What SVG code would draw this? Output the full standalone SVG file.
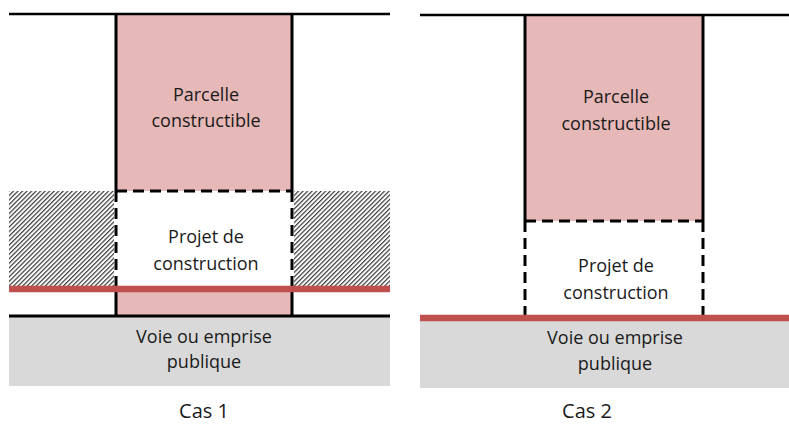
<svg xmlns="http://www.w3.org/2000/svg" width="789" height="424" viewBox="0 0 789 424">
<style>
.lbl{font-family:"Open Sans","Liberation Sans",sans-serif;font-size:18px;fill:#1a1a1a;text-anchor:middle}
.cas{font-family:"Open Sans","Liberation Sans",sans-serif;font-size:20px;fill:#1a1a1a;text-anchor:middle}
.ln{stroke:#000;stroke-width:2.5;fill:none}
.side{stroke:#000;stroke-width:3;fill:none}
.dash{stroke:#000;stroke-width:3;fill:none;stroke-dasharray:11 6}
.red{stroke:#c0504d;stroke-width:6.5;fill:none}
.pink{fill:#e6b8b7}
.gray{fill:#d9d9d9}
</style>
<defs>
<pattern id="hatch" patternUnits="userSpaceOnUse" width="3.2" height="3.2" patternTransform="rotate(45)">
<rect x="0" y="0" width="3.2" height="3.2" fill="#fff"/>
<rect x="0" y="0" width="1.2" height="3.2" fill="#3a3a3a"/>
</pattern>
</defs>
<rect width="789" height="424" fill="#fff"/>

<g id="cas1">
<g id="c1-voie">
<rect class="gray" x="9" y="316" width="381" height="70"/>
<text class="lbl" x="204" y="343">Voie ou emprise</text>
<text class="lbl" x="204" y="368">publique</text>
</g>
<g id="c1-hatch">
<rect x="9" y="191" width="105" height="95" fill="url(#hatch)"/>
<rect x="294" y="191" width="96" height="95" fill="url(#hatch)"/>
</g>
<g id="c1-parcelle">
<rect class="pink" x="116" y="14" width="176" height="177"/>
<rect class="pink" x="116" y="289" width="176" height="27"/>
<text class="lbl" x="206" y="101">Parcelle</text>
<text class="lbl" x="206" y="127">constructible</text>
</g>
<g id="c1-projet">
<rect x="116" y="191" width="176" height="98" fill="#fff"/>
<text class="lbl" x="206" y="243">Projet de</text>
<text class="lbl" x="206" y="270">construction</text>
</g>
<g id="c1-lines">
<line class="ln" x1="9" y1="14" x2="390" y2="14"/>
<line class="side" x1="116" y1="14" x2="116" y2="191"/>
<line class="side" x1="292" y1="14" x2="292" y2="191"/>
<line class="dash" x1="116" y1="191" x2="292" y2="191"/>
<line class="dash" x1="116" y1="191" x2="116" y2="289"/>
<line class="dash" x1="292" y1="191" x2="292" y2="289"/>
<line class="side" x1="116" y1="289" x2="116" y2="316"/>
<line class="side" x1="292" y1="289" x2="292" y2="316"/>
<line class="red" x1="9" y1="289" x2="390" y2="289"/>
<line class="side" x1="9" y1="316" x2="390" y2="316"/>
</g>
<text class="cas" x="204" y="418">Cas 1</text>
</g>

<g id="cas2">
<g id="c2-voie">
<rect class="gray" x="420" y="318" width="369" height="70"/>
<text class="lbl" x="615" y="344">Voie ou emprise</text>
<text class="lbl" x="615" y="370">publique</text>
</g>
<g id="c2-parcelle">
<rect class="pink" x="525" y="15" width="178" height="206"/>
<text class="lbl" x="616" y="103">Parcelle</text>
<text class="lbl" x="616" y="130">constructible</text>
</g>
<g id="c2-projet">
<rect x="525" y="221" width="178" height="97" fill="#fff"/>
<text class="lbl" x="616" y="272">Projet de</text>
<text class="lbl" x="616" y="299">construction</text>
</g>
<g id="c2-lines">
<line class="ln" x1="420" y1="15" x2="789" y2="15"/>
<line class="side" x1="525" y1="15" x2="525" y2="221"/>
<line class="side" x1="703" y1="15" x2="703" y2="221"/>
<line class="dash" x1="525" y1="221" x2="703" y2="221"/>
<line class="dash" x1="525" y1="221" x2="525" y2="315"/>
<line class="dash" x1="703" y1="221" x2="703" y2="315"/>
<line class="red" x1="420" y1="318" x2="789" y2="318"/>
</g>
<text class="cas" x="587" y="418">Cas 2</text>
</g>
</svg>
